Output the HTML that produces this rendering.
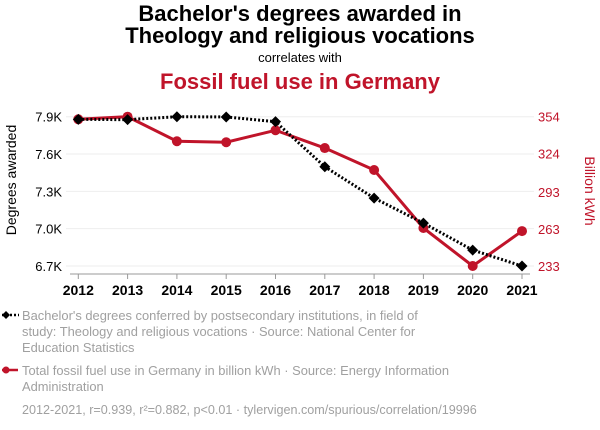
<!DOCTYPE html>
<html><head><meta charset="utf-8">
<style>
html,body{margin:0;padding:0;background:#fff;}
svg{display:block;font-family:"Liberation Sans",sans-serif;}
</style></head>
<body>
<svg id="chart" width="600" height="430" viewBox="0 0 600 430" xmlns="http://www.w3.org/2000/svg">
<text x="300" y="21" text-anchor="middle" font-size="22" font-weight="bold" fill="#000">Bachelor's degrees awarded in</text>
<text x="300" y="43" text-anchor="middle" font-size="22" font-weight="bold" fill="#000">Theology and religious vocations</text>
<text x="300" y="62" text-anchor="middle" font-size="13" fill="#000">correlates with</text>
<text x="300" y="89" text-anchor="middle" font-size="22" font-weight="bold" fill="#c0142a">Fossil fuel use in Germany</text>
<text transform="translate(16,180) rotate(-90)" text-anchor="middle" font-size="14" fill="#000">Degrees awarded</text>
<text transform="translate(585,191) rotate(90)" text-anchor="middle" font-size="14" fill="#c0142a">Billion kWh</text>
<g id="grid"></g><g id="axes"></g><g id="series"></g>
<g>
<line x1="2" y1="315" x2="19" y2="315" stroke="#000" stroke-width="2.5" stroke-dasharray="2,2"/>
<path d="M6 311 L10 315 L6 319 L2 315Z" fill="#000"/>
<text font-size="12.9" fill="#a0a0a0"><tspan x="22" y="320">Bachelor's degrees conferred by postsecondary institutions, in field of</tspan><tspan x="22" y="336">study: Theology and religious vocations · Source: National Center for</tspan><tspan x="22" y="352">Education Statistics</tspan></text>
<line x1="2" y1="370" x2="18" y2="370" stroke="#c0142a" stroke-width="2.5"/>
<circle cx="6" cy="370" r="3.5" fill="#c0142a"/>
<text font-size="12.9" fill="#a0a0a0"><tspan x="22" y="375">Total fossil fuel use in Germany in billion kWh · Source: Energy Information</tspan><tspan x="22" y="391">Administration</tspan></text>
</g>
<text x="22" y="414" font-size="12.6" fill="#a0a0a0">2012-2021, r=0.939, r²=0.882, p&lt;0.01 · tylervigen.com/spurious/correlation/19996</text>
</svg>
<script>
const years=[2012,2013,2014,2015,2016,2017,2018,2019,2020,2021];
const degrees=[7879,7876,7900,7898,7860,7498,7246,7045,6828,6700];
const fossil=[351.9,354,334.1,333.3,343,328.6,310.8,263.8,233,261.3];
const leftTicks=[6700,7000,7300,7600,7900];
const leftTickLabels=["6.7K","7.0K","7.3K","7.6K","7.9K"];
const rightTicks=[233,263,293,324,354];

const NS="http://www.w3.org/2000/svg";
const x=i=>78.3+i*(522-78.3)/(years.length-1);
const yL=v=>266-(v-6700)*(266-116.7)/1200;
const yR=v=>266-(v-233)*(266-116.7)/121;
function mk(tag,attrs,parent){const e=document.createElementNS(NS,tag);for(const k in attrs)e.setAttribute(k,attrs[k]);parent.appendChild(e);return e;}
const grid=document.getElementById('grid'),axes=document.getElementById('axes'),ser=document.getElementById('series');
leftTicks.forEach((t,i)=>{
  const g=mk('line',{x1:66,x2:534,y1:yL(t),y2:yL(t),stroke:'#eeeeee','stroke-width':1},grid);
  
  
  const tl=mk('text',{x:62,y:yL(t)+5,'text-anchor':'end','font-size':13,fill:'#000'},axes);
  tl.textContent=leftTickLabels[i];
  
  
});
rightTicks.forEach(t=>{
  const tl=mk('text',{x:538,y:yR(t)+5,'font-size':13,fill:'#c0142a'},axes);
  tl.textContent=t;
  
  
});
const ax=mk('line',{x1:70,x2:530,y1:274,y2:274,stroke:'#999','stroke-width':1},axes);


years.forEach((yr,i)=>{
  const tk=mk('line',{x1:x(i),x2:x(i),y1:274,y2:279,stroke:'#999'},axes);
  
  
  const tl=mk('text',{x:x(i),y:295,'text-anchor':'middle','font-size':14,'font-weight':'bold',fill:'#000'},axes);
  tl.textContent=yr;
  
  
});
const rl=mk('polyline',{points:fossil.map((v,i)=>x(i)+','+yR(v)).join(' '),fill:'none',stroke:'#c0142a','stroke-width':3},ser);


fossil.forEach((v,i)=>{
  const c=mk('circle',{cx:x(i),cy:yR(v),r:5,fill:'#c0142a'},ser);
  
  
});
const bl=mk('polyline',{points:degrees.map((v,i)=>x(i)+','+yL(v)).join(' '),fill:'none',stroke:'#000','stroke-width':3,'stroke-dasharray':'2,2'},ser);


degrees.forEach((v,i)=>{
  const X=x(i),Y=yL(v);
  const p=mk('path',{d:`M${X} ${Y-5.5} L${X+5.5} ${Y} L${X} ${Y+5.5} L${X-5.5} ${Y}Z`,fill:'#000'},ser);
  
  
});
</script>
</body></html>
